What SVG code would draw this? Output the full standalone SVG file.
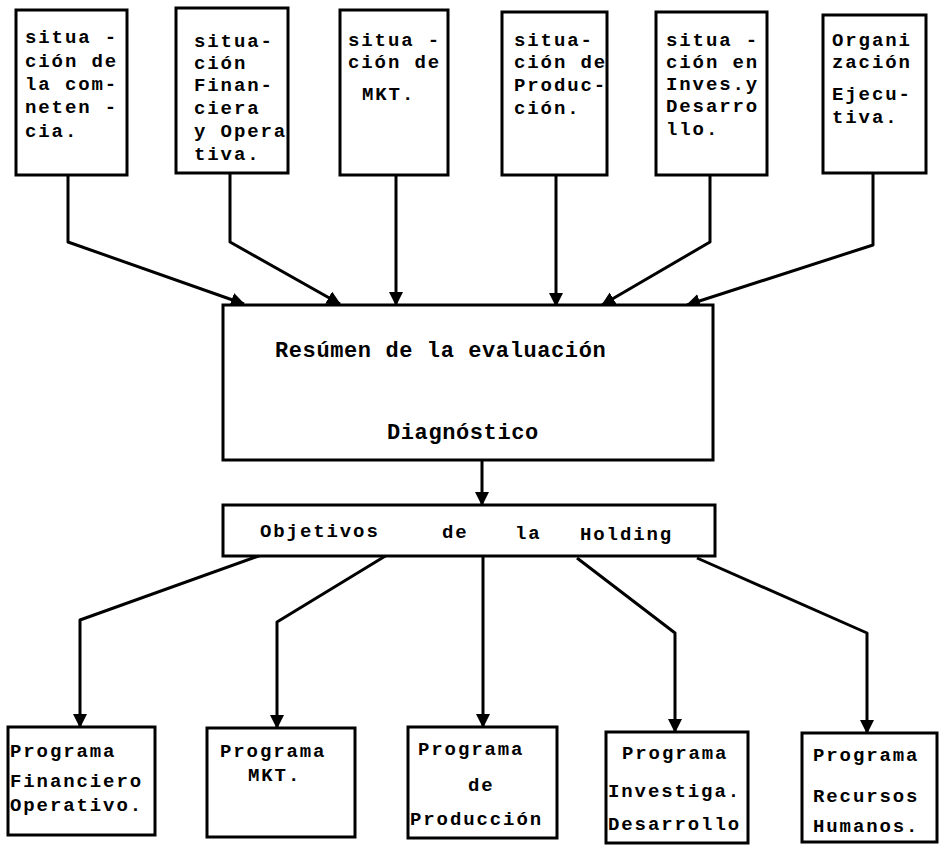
<svg xmlns="http://www.w3.org/2000/svg" width="939" height="845" viewBox="0 0 939 845">
<style>
.box{fill:#fff;stroke:#000;stroke-width:3}
.t{font-family:"Liberation Mono","Courier New",monospace;font-size:19px;letter-spacing:1.9px;font-weight:bold;fill:#000}
.big{font-size:22px;letter-spacing:0.6px}
.c{fill:none;stroke:#000;stroke-width:3;stroke-linejoin:round}
</style>
<defs>
<marker id="ah" markerUnits="userSpaceOnUse" markerWidth="16" markerHeight="16" refX="13" refY="7" orient="auto">
<path d="M0,0 L14,7 L0,14 z" fill="#000"/>
</marker>
</defs>
<rect width="939" height="845" fill="#fff"/>
<g id="connectors">
<path class="c" d="M68,175 L68,242 L244,304" marker-end="url(#ah)"/>
<path class="c" d="M230,173 L230,242 L340,304" marker-end="url(#ah)"/>
<path class="c" d="M396,175 L396,305" marker-end="url(#ah)"/>
<path class="c" d="M556,175 L556,306" marker-end="url(#ah)"/>
<path class="c" d="M710,175 L710,242 L602,305" marker-end="url(#ah)"/>
<path class="c" d="M873,173 L873,245 L687,305" marker-end="url(#ah)"/>
<path class="c" d="M482,460 L482,505" marker-end="url(#ah)"/>
<path class="c" d="M267,553 L80,620 L80,727" marker-end="url(#ah)"/>
<path class="c" d="M387,555 L277,622 L277,728" marker-end="url(#ah)"/>
<path class="c" d="M483,556 L483,727" marker-end="url(#ah)"/>
<path class="c" d="M577,558 L675,633 L675,732" marker-end="url(#ah)"/>
<path class="c" d="M697,558 L867,633 L867,733" marker-end="url(#ah)"/>
</g>
<g id="n1">
<rect class="box" x="16" y="10" width="111" height="165"/>
<text class="t" x="25" y="43">situa -</text>
<text class="t" x="25" y="67">ción de</text>
<text class="t" x="25" y="90">la com-</text>
<text class="t" x="25" y="113">neten -</text>
<text class="t" x="25" y="137">cia.</text>
</g>
<g id="n2">
<rect class="box" x="176" y="8" width="112" height="165"/>
<text class="t" x="194" y="47">situa-</text>
<text class="t" x="194" y="69">ción</text>
<text class="t" x="194" y="91">Finan-</text>
<text class="t" x="194" y="114">ciera</text>
<text class="t" x="194" y="137">y Opera</text>
<text class="t" x="194" y="160">tiva.</text>
</g>
<g id="n3">
<rect class="box" x="340" y="10" width="108" height="165"/>
<text class="t" x="348" y="46">situa -</text>
<text class="t" x="348" y="68">ción de</text>
<text class="t" x="362" y="100">MKT.</text>
</g>
<g id="n4">
<rect class="box" x="502" y="12" width="105" height="163"/>
<text class="t" x="514" y="46">situa-</text>
<text class="t" x="514" y="68">ción de</text>
<text class="t" x="514" y="91">Produc-</text>
<text class="t" x="514" y="114">ción.</text>
</g>
<g id="n5">
<rect class="box" x="656" y="12" width="111" height="163"/>
<text class="t" x="666" y="46">situa -</text>
<text class="t" x="666" y="68">ción en</text>
<text class="t" x="666" y="90">Inves.y</text>
<text class="t" x="666" y="112">Desarro</text>
<text class="t" x="666" y="135">llo.</text>
</g>
<g id="n6">
<rect class="box" x="823" y="15" width="103" height="158"/>
<text class="t" x="832" y="46">Organi</text>
<text class="t" x="832" y="68">zación</text>
<text class="t" x="832" y="100">Ejecu-</text>
<text class="t" x="832" y="123">tiva.</text>
</g>
<g id="resumen">
<rect class="box" x="223" y="305" width="490" height="155"/>
<text class="t big" x="275" y="357">Resúmen de la evaluación</text>
<text class="t big" x="387" y="439">Diagnóstico</text>
</g>
<g id="objetivos">
<rect class="box" x="223" y="505" width="492" height="51"/>
<text class="t" x="260" y="537">Objetivos</text>
<text class="t" x="442" y="538">de</text>
<text class="t" x="515" y="539">la</text>
<text class="t" x="580" y="540">Holding</text>
</g>
<g id="p1">
<rect class="box" x="8" y="727" width="147" height="108"/>
<text class="t" x="10" y="757">Programa</text>
<text class="t" x="10" y="787">Financiero</text>
<text class="t" x="10" y="811">Operativo.</text>
</g>
<g id="p2">
<rect class="box" x="207" y="728" width="148" height="109"/>
<text class="t" x="220" y="757">Programa</text>
<text class="t" x="248" y="781">MKT.</text>
</g>
<g id="p3">
<rect class="box" x="408" y="727" width="149" height="111"/>
<text class="t" x="418" y="755">Programa</text>
<text class="t" x="468" y="791">de</text>
<text class="t" x="410" y="825">Producción</text>
</g>
<g id="p4">
<rect class="box" x="606" y="732" width="142" height="111"/>
<text class="t" x="622" y="759">Programa</text>
<text class="t" x="608" y="797">Investiga.</text>
<text class="t" x="608" y="830">Desarrollo</text>
</g>
<g id="p5">
<rect class="box" x="802" y="733" width="135" height="109"/>
<text class="t" x="813" y="761">Programa</text>
<text class="t" x="813" y="802">Recursos</text>
<text class="t" x="813" y="832">Humanos.</text>
</g>
</svg>
